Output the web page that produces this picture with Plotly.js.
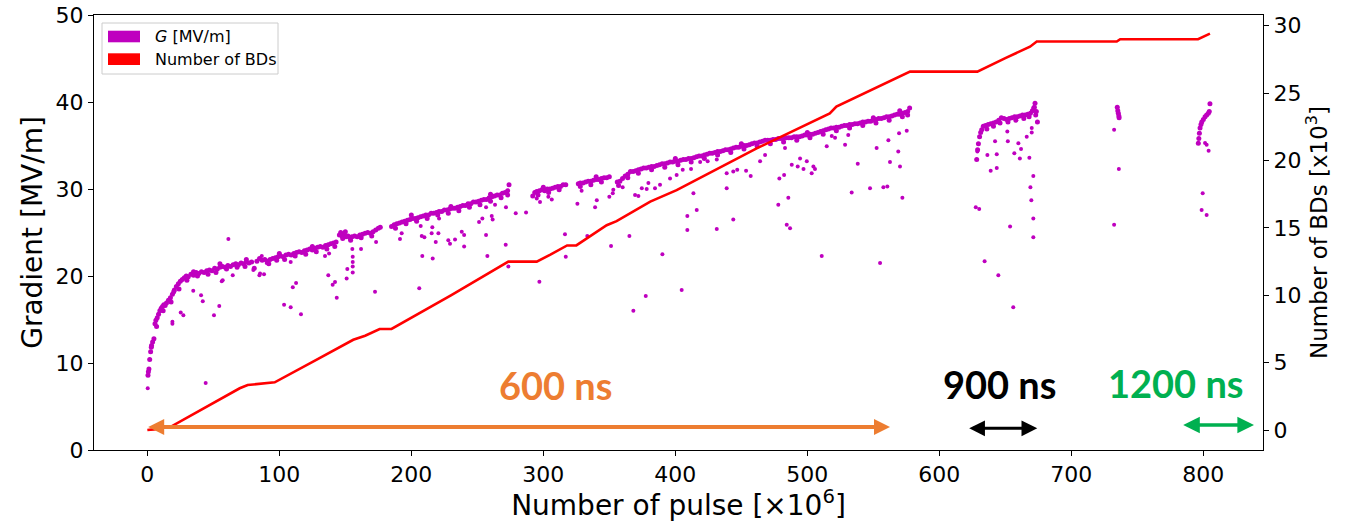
<!DOCTYPE html>
<html>
<head>
<meta charset="utf-8">
<script src="https://cdn.plot.ly/plotly-3.0.1.min.js"></script>
<style>html,body{margin:0;padding:0;background:#fff;}#chart{width:1354px;height:522px;}</style>
</head>
<body>
<div id="chart"></div>
<script>
// ---- Gradient G [MV/m] vs number of pulses [x10^6] : [pulse, gradient] ----
const gradBand600a = [[0.5,8.6],[0.8,9.0],[1.2,9.3],[1.8,10.4],[2.5,11.3],[3.2,12.0],[4,12.4],[5,12.8],[5.8,14.5],[6.5,14.9],[7.5,15.2],[8.5,15.6],[9.5,16.0],[10.5,16.3],[11.5,16.5],[12.5,16.7],[13.5,16.6],[14.5,16.9],[16,17.2],[17.5,17.5],[19,17.9],[20.5,18.4],[22,18.8],[23.5,19.1],[25,19.4],[26.5,19.6],[28,19.8],[29.5,20.0],[31,19.9],[33,20.2],[35,20.1],[37,20.4],[39,20.3],[41,20.5],[43,20.4],[45,20.6],[47,20.7],[49,20.6],[51,20.9],[53,20.8],[55,21.0],[57,21.1],[59,21.0],[61,21.2],[63,21.1],[65,21.3],[67,21.4],[69,21.3],[71,21.5],[73,21.4],[75,21.6],[77,21.5],[79,21.6],[81,20.9],[83,21.7],[85,22.0],[87,21.8],[89,21.9],[91,21.7],[93,21.9],[95,22.0],[97,22.1],[99,22.2],[101,22.3],[103,22.2],[105,22.4],[107,22.5],[109,22.4],[111,22.6],[113,22.7],[115,22.8],[117,22.7],[119,22.9],[121,23.0],[123,23.1],[125,23.0],[127,23.2],[129,23.3],[131,23.4],[133,23.3],[135,23.5],[137,23.6],[139,23.7],[141,23.8],[143,23.9]];
const gradBand600b = [[145.5,24.7],[146.5,25.0],[147.5,24.6],[149,24.8],[150.5,24.5],[152,24.6],[153.5,24.4],[155,24.5],[157,24.6],[159,24.5],[161,24.7],[163,24.8],[165,24.9],[167,25.0],[169,24.9],[171,25.1],[173,25.3],[175,25.5],[176.5,25.6]];
const gradBand600c = [[185,25.7],[187,25.9],[189,26.0],[191,26.1],[193,26.2],[195,26.3],[197,26.4],[199,26.5],[201,26.6],[203,26.6],[205,26.7],[207,26.8],[209,26.9],[211,27.0],[213,27.0],[215,27.2],[217,27.2],[219,27.3],[221,27.4],[223,27.4],[225,27.6],[227,27.6],[229,27.7],[231,27.8],[233,27.8],[235,27.9],[237,28.0],[239,28.1],[241,28.1],[243,28.3],[245,28.3],[247,28.5],[249,28.5],[251,28.6],[253,28.7],[255,28.8],[257,28.8],[259,29.0],[261,29.1],[263,29.2],[265,29.3],[267,29.3],[269,29.5],[271,29.6],[273,29.8],[274,30.5]];
const gradBand600d = [[292,29.2],[293.5,29.6],[295,29.7],[297,29.8],[299,29.9],[301,29.8],[303,30.0],[305,30.0],[307,30.1],[309,30.2],[311,30.3],[313,30.3],[315,30.5],[317,30.5],[326.5,30.6],[328,30.7],[330,30.7],[332,30.8],[334,30.9],[336,30.9],[338,31.0],[340,31.1],[342,31.1],[344,31.2],[346,31.3],[348,31.3],[350,31.4]];
const gradBand600e = [[356,30.8],[358,30.9],[360,31.2],[362,31.5],[364,31.7],[366,32.0],[368,32.0],[370,32.1],[372,32.2],[374,32.3],[376,32.4],[378,32.4],[380,32.5],[382,32.6],[384,32.6],[386,32.7],[388,32.8],[390,32.9],[392,32.9],[394,33.0],[396,33.1],[398,33.1],[400,33.2],[402,33.2],[404,33.3],[406,33.4],[408,33.4],[410,33.5],[412,33.5],[414,33.6],[416,33.7],[418,33.8],[420,33.8],[422,33.9],[424,34.0],[426,34.1],[428,34.1],[430,34.2],[432,34.3],[434,34.3],[436,34.4],[438,34.5],[440,34.5],[442,34.6],[444,34.7],[446,34.8],[448,34.8],[450,34.9],[452,35.0],[454,35.0],[456,35.1],[458,35.2],[460,35.3],[462,35.3],[464,35.4],[466,35.5],[468,35.6],[470,35.6],[472,35.6],[474,35.7],[476,35.7],[478,35.8],[480,35.8],[482,35.8],[484,35.9],[486,35.9],[488,35.9],[490,36.0],[492,36.0],[494,36.0],[496,36.1],[498,36.2],[500,36.2],[502,36.3],[504,36.3],[506,36.4],[508,36.5],[510,36.6],[512,36.7],[514,36.8],[516,36.9],[518,37.0],[520,37.0],[522,37.1],[524,37.1],[526,37.2],[528,37.3],[530,37.3],[532,37.4],[534,37.4],[536,37.5],[538,37.5],[540,37.6],[542,37.7],[544,37.7],[546,37.8],[548,37.8],[550,37.9],[552,38.0],[554,38.1],[556,38.1],[558,38.2],[560,38.3],[562,38.3],[564,38.4],[566,38.5],[568,38.6],[570,38.6],[572,38.7],[574,38.8],[576,38.9],[577.5,39.3]];
const gradBandFuzz = [[3,11.8],[7,14.2],[12,16.0],[18,17.0],[24,18.5],[30,19.5],[38,20.0],[46,20.2],[52,20.4],[60,20.8],[68,21.0],[74,21.1],[92,21.4],[98,21.8],[104,21.9],[112,22.3],[120,22.5],[128,22.8],[136,23.1],[142,23.4],[148,24.3],[154,24.1],[162,24.4],[170,24.6],[188,25.5],[196,26.0],[204,26.3],[212,26.6],[220,27.0],[228,27.2],[236,27.5],[244,27.9],[252,28.2],[260,28.6],[268,29.0],[273,29.3],[296,29.3],[304,29.6],[312,29.9],[328,30.3],[336,30.5],[344,30.8],[357,30.4],[364,31.3],[372,31.8],[382,32.2],[392,32.5],[402,32.8],[412,33.1],[422,33.5],[432,33.9],[442,34.2],[452,34.6],[462,34.9],[472,35.2],[482,35.4],[492,35.6],[502,35.9],[512,36.3],[522,36.7],[532,37.0],[542,37.3],[552,37.6],[562,37.9],[572,38.3],[576,38.5],
[20,18.2],[35,20.5],[55,21.4],[75,21.9],[100,22.6],[125,23.4],[150,25.1],[200,27.0],[230,28.0],[260,29.4],[300,30.2],[340,31.4],[400,33.5],[450,35.2],[500,36.5],[550,38.2],[570,39.0],
[636,36.9],[641,37.2],[646,37.6],[652,37.7],[658,37.9],[664,38.1],[668,38.3],[672,39.4],[673,38.5]];
const gradBand900 = [[628.3,33.4],[629,34.5],[629.6,35.2],[630.5,36.0],[631.3,36.5],[632.1,36.8],[633.3,37.2],[635,37.3],[637,37.4],[639,37.5],[641,37.6],[643,37.7],[645,37.9],[647,38.2],[649,38.1],[651,38.0],[653,38.1],[655,38.2],[657,38.3],[659,38.3],[661,38.4],[663,38.5],[665,38.5],[667,38.6],[669,38.7],[670.5,39.0],[671.5,39.3],[672.5,39.85],[673.5,38.9],[674.3,37.7]];
const gradBand1200 = [[734.8,39.4],[735.2,39.0],[735.6,38.7],[736,38.4],[736.2,38.2],[796.2,35.25],[796.6,35.8],[797,36.4],[797.5,37.0],[798.2,37.4],[798.8,37.7],[800,38.0],[801.3,38.3],[802.5,38.5],[803.8,38.7],[804.5,38.9],[805,39.8]];
const gradOutliers = [[0.3,7.1],[44.2,7.7],[19,14.75],[19,14.5],[25.3,15.8],[27.3,15.5],[34.8,18.3],[40.7,17.8],[42,17.1],[50.5,15.5],[54.5,16.55],[56.4,19.4],[57.1,19.5],[61.4,24.25],[64.7,20.1],[80.3,20.7],[84.9,20.1],[85.4,20.3],[88.4,20.2],[86.7,22.3],[90.4,21.5],[103.6,16.7],[108.6,16.4],[116.4,15.6],[110.2,18.7],[112.7,19.2],[108.6,21.6],[134.6,22.3],[137.7,22.6],[137.1,20.1],[140.4,19.0],[142.2,19.3],[143.5,17.5],[151,19.7],[151.5,20.8],[155.6,22.2],[155.6,21.6],[155.6,21.1],[155.6,20.4],[155.3,23.1],[161.9,23.1],[172.5,18.2],[173.3,23.9],
[191.4,24.25],[192.7,24.9],[206,18.6],[207.1,25.75],[207.9,24.6],[208.3,22.3],[209.9,24.45],[215.4,24.9],[215.9,25.6],[216.2,22.0],[218.5,23.9],[220.5,24.9],[221,26.6],[228,24.1],[229.3,23.7],[233.1,24.2],[238.2,25.1],[240,24.7],[240,23.4],[251.3,26.2],[253.8,26.6],[256.6,24.7],[256.6,27.9],[257.6,22.3],[260.9,26.9],[261.6,26.5],[263.4,28.2],[271.7,27.9],[271.5,23.6],[273.5,21.1],[279.1,27.2],[286.9,27.3],[295,28.9],[297.5,28.5],[297,19.35],[303.8,29.1],[306.4,28.8],[316.4,24.8],[317,22.2],[325.8,28.3],[329,29.8],[333.3,24.6],[339.2,27.9],[340.5,28.7],[350,29.1],[351.3,23.45],[352.6,29.5],[353,29.9],[360.1,30.2],[365.2,24.6],[368.2,16.0],[369.5,29.3],[372,29.2],[374.6,30.1],[377.6,17.7],[378.3,30.0],[379.6,30.7],[384.6,30.1],[388.4,30.5],[390.2,22.5],[396,31.2],[401,31.6],[404.8,18.4],[405.6,32.2],[409.1,26.9],[409.1,25.3],[411.9,32.3],[413.7,29.5],[416.2,27.6],[418.8,33.1],[424.5,33.2],[431.4,25.4],[431.4,33.4],[438.9,30.1],[438.9,31.8],[443.9,26.5],[443.9,32.0],[446.9,32.2],[453.6,32.1],[457.1,31.5],[464.2,33.2],[468,33.9],[478,28.2],[478.8,31.2],[482.4,31.6],[483.1,34.7],[484.4,25.9],[485.6,29.0],[486.9,25.5],[488.2,32.8],[492.7,32.6],[494.5,33.5],[497.1,32.3],[499.6,33.2],[503.3,31.8],[504.6,32.6],[505.8,32.3],[510.9,22.3],[514.7,34.9],[518.5,36.1],[521,35.9],[528.6,35.1],[531,36.2],[533.6,29.6],[538.2,32.9],[547.5,30.1],[552.5,34.7],[555.1,21.5],[557.6,30.2],[560.6,30.3],[561.4,35.6],[562.6,33.1],[568.9,34.3],[569.5,36.4],[570.2,32.6],[572,29.0],[575.3,36.7],
[627.6,27.9],[630.2,27.7],[634.3,21.7],[644.7,20.1],[656,16.4],[653.6,25.7],[671.2,31.5],[669,30.2],[669.7,28.7],[671.2,26.6],[671.2,24.45],[636.4,33.9],[638.9,32.1],[643.5,32.4],[642.2,35.5],[651.9,35.5],[656.8,34.1],[661,33.5],[668.2,33.6],[666.2,36.0],[659.9,35.25],[661.9,34.6],[670,36.5],[670,37.0],[651.5,36.6],[628.8,34.3],[643.5,34.0],
[732.4,36.8],[736,32.3],[732.4,25.9],[801.3,35.3],[802.5,35.1],[804,34.4],[799.5,29.5],[798.7,27.6],[802.5,27.0]];

// ---- Number of BDs [x10^3] vs number of pulses [x10^6] ----
const bdPulse = [0,5,18,70,76,82,96.5,128,150,156,165,176,185,230,273.5,295,305,318,325,348,355.5,381,401,430,461.6,517,522,577.8,628.8,650,668.7,673.8,734.4,737,796,805];
const bdCount = [0,0.05,0.26,3.1,3.34,3.4,3.54,5.2,6.35,6.7,7.0,7.5,7.5,10.0,12.5,12.5,13.0,13.7,13.7,15.2,15.5,16.95,17.8,19.3,20.9,23.5,24.0,26.6,26.6,27.6,28.45,28.83,28.83,29.0,29.0,29.42];

const legendLabels = ['<i>G</i> [MV/m]', 'Number of BDs'];
const periodLabels = ['600 ns', '900 ns', '1200 ns'];

const bandPts = [].concat(gradBand600a, gradBand600b, gradBand600c, gradBand600d, gradBand600e, gradBandFuzz, gradBand900, gradBand1200);

const MAG = '#bf00bf', RED = '#ff0000', ORANGE = '#ed7d31', GREEN = '#00b050';
const tickFont = {family: 'DejaVu Sans', size: 22, color: '#000'};

const traces = [
  {type: 'scatter', mode: 'markers', x: bandPts.map(p => p[0]), y: bandPts.map(p => p[1]),
   marker: {color: MAG, size: 5, line: {width: 0}}, yaxis: 'y', showlegend: false, hoverinfo: 'skip'},
  {type: 'scatter', mode: 'markers', x: gradOutliers.map(p => p[0]), y: gradOutliers.map(p => p[1]),
   marker: {color: MAG, size: 4, line: {width: 0}}, yaxis: 'y', showlegend: false, hoverinfo: 'skip'},
  {type: 'scatter', mode: 'lines', x: bdPulse, y: bdCount, yaxis: 'y2',
   line: {color: RED, width: 2.6}, showlegend: false, hoverinfo: 'skip'}
];

const axBase = {showgrid: false, zeroline: false, showline: true, linecolor: '#000', linewidth: 1,
  ticks: 'outside', ticklen: 5, tickwidth: 1, tickcolor: '#000', tickfont: tickFont};

// plot area in px: left 94, right 1263, top 15, bottom 450
const px = v => (v - 94) / 1169, py = v => (450 - v) / 435;

const layout = {
  width: 1354, height: 522,
  margin: {l: 94, r: 91, t: 15, b: 72, pad: 0},
  paper_bgcolor: '#fff', plot_bgcolor: '#fff',
  showlegend: false,
  font: {family: 'DejaVu Sans', color: '#000'},
  xaxis: Object.assign({}, axBase, {range: [-40.4, 845.2], tickvals: [0,100,200,300,400,500,600,700,800], mirror: true,
    title: {text: 'Number of pulse [×10<sup>6</sup>]', font: {family: 'DejaVu Sans', size: 28, color: '#000'}, standoff: 7}}),
  yaxis: Object.assign({}, axBase, {range: [0, 50], tickvals: [0,10,20,30,40,50], mirror: true,
    title: {text: 'Gradient [MV/m]', font: {family: 'DejaVu Sans', size: 28, color: '#000'}, standoff: 4}}),
  yaxis2: Object.assign({}, axBase, {overlaying: 'y', side: 'right', range: [-1.48, 30.8], tickvals: [0,5,10,15,20,25,30],
    title: {text: 'Number of BDs [x10<sup>3</sup>]', font: {family: 'DejaVu Sans', size: 23, color: '#000'}, standoff: 10}}),
  shapes: [
    {type: 'rect', xref: 'paper', yref: 'paper', x0: px(102), x1: px(278), y0: py(74), y1: py(23),
     line: {color: '#cccccc', width: 1}, fillcolor: 'rgba(255,255,255,0.8)'},
    {type: 'rect', xref: 'paper', yref: 'paper', x0: px(108), x1: px(140), y0: py(42.3), y1: py(30.7),
     line: {width: 0}, fillcolor: MAG},
    {type: 'rect', xref: 'paper', yref: 'paper', x0: px(108), x1: px(140), y0: py(65), y1: py(53.3),
     line: {width: 0}, fillcolor: RED}
  ],
  annotations: [
    {xref: 'paper', yref: 'paper', x: px(153), y: py(36.5), xanchor: 'left', yanchor: 'middle', showarrow: false,
     text: legendLabels[0], font: {family: 'DejaVu Sans', size: 16, color: '#000'}},
    {xref: 'paper', yref: 'paper', x: px(153), y: py(59), xanchor: 'left', yanchor: 'middle', showarrow: false,
     text: legendLabels[1], font: {family: 'DejaVu Sans', size: 16, color: '#000'}},
    {xref: 'paper', yref: 'paper', x: px(556), y: py(385), xanchor: 'center', yanchor: 'middle', showarrow: false,
     text: '<b>' + periodLabels[0] + '</b>', font: {family: 'Lato', size: 38, color: ORANGE}},
    {xref: 'paper', yref: 'paper', x: px(1000), y: py(384), xanchor: 'center', yanchor: 'middle', showarrow: false,
     text: '<b>' + periodLabels[1] + '</b>', font: {family: 'Lato', size: 38, color: '#000'}},
    {xref: 'paper', yref: 'paper', x: px(1176), y: py(383), xanchor: 'center', yanchor: 'middle', showarrow: false,
     text: '<b>' + periodLabels[2] + '</b>', font: {family: 'Lato', size: 38, color: GREEN}},
    {xref: 'x', yref: 'y', axref: 'x', ayref: 'y', x: 562.6, y: 2.64, ax: -0.5, ay: 2.64, text: '', showarrow: true,
     arrowside: 'end+start', arrowhead: 2, startarrowhead: 2, arrowsize: 0.8, startarrowsize: 0.8, arrowwidth: 4, arrowcolor: ORANGE, standoff: 0, startstandoff: 0},
    {xref: 'x', yref: 'y', axref: 'x', ayref: 'y', x: 674.2, y: 2.49, ax: 621.5, ay: 2.49, text: '', showarrow: true,
     arrowside: 'end+start', arrowhead: 2, startarrowhead: 2, arrowsize: 1.05, startarrowsize: 1.05, arrowwidth: 3, arrowcolor: '#000', standoff: 0, startstandoff: 0},
    {xref: 'x', yref: 'y', axref: 'x', ayref: 'y', x: 838.4, y: 2.87, ax: 783.6, ay: 2.87, text: '', showarrow: true,
     arrowside: 'end+start', arrowhead: 2, startarrowhead: 2, arrowsize: 0.95, startarrowsize: 0.95, arrowwidth: 3.5, arrowcolor: GREEN, standoff: 0, startstandoff: 0}
  ]
};

Plotly.newPlot('chart', traces, layout, {staticPlot: true, displayModeBar: false});
</script>
</body>
</html>
